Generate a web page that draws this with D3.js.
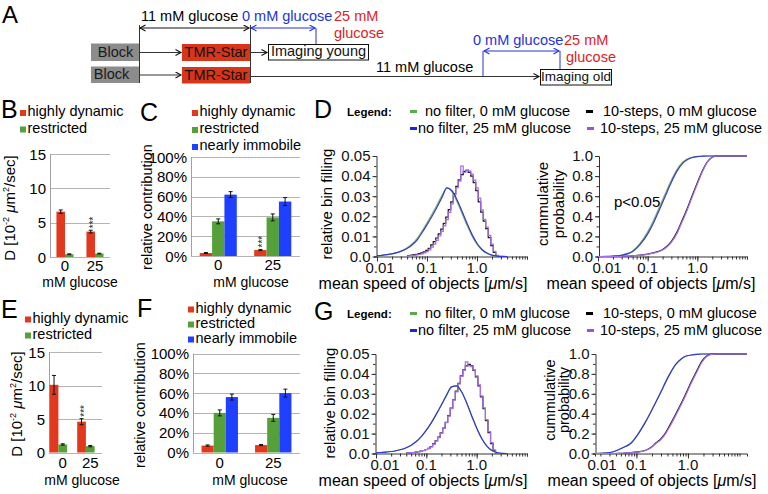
<!DOCTYPE html>
<html>
<head>
<meta charset="utf-8">
<script src="https://cdn.jsdelivr.net/npm/d3@7/dist/d3.min.js"></script>
<style>
  body { margin: 0; background: #fff; }
  svg { display: block; font-family: "Liberation Sans", Arial, Helvetica, sans-serif; }
</style>
</head>
<body>
<svg id="fig" width="768" height="494"></svg>
<script>
// ---------------- data ----------------
var glucose = ["0", "25"];

// B / E : diffusion constants [10^-2 um^2/s]
var youngDynD = [6.6, 3.7], youngDynDErr = [0.25, 0.2];
var youngResD = [0.4, 0.5], youngResDErr = [0.06, 0.05];
var oldDynD = [10.1, 4.6], oldDynDErr = [1.4, 0.45];
var oldResD = [1.2, 0.95], oldResDErr = [0.1, 0.1];

// C / F : relative contribution [%]
var youngDynFrac = [3, 6], youngDynFracErr = [0.5, 0.6];
var youngResFrac = [35, 39], youngResFracErr = [2.5, 3.5];
var youngImmFrac = [62, 55], youngImmFracErr = [3, 4];
var oldDynFrac = [7, 7.5], oldDynFracErr = [0.6, 0.6];
var oldResFrac = [40, 35], oldResFracErr = [3, 3.5];
var oldImmFrac = [56, 60], oldImmFracErr = [3, 4];

var diffTicks = [0, 5, 10, 15];
var fracTicks = [0, 20, 40, 60, 80, 100];

// D / G : speed histograms (log bins)
var noFilterSpeed = [0.01, 0.0126, 0.0158, 0.02, 0.0251, 0.0316, 0.0398, 0.0501, 0.0631, 0.0794,
  0.1, 0.126, 0.158, 0.2, 0.251, 0.316, 0.398, 0.501, 0.631, 0.794,
  1.0, 1.26, 1.58, 2.0, 2.51, 3.16, 3.98];
var noFilter0D = [0.0004, 0.0006, 0.0009, 0.0014, 0.0020, 0.0030, 0.0043, 0.0062, 0.0089, 0.0127,
  0.0168, 0.0211, 0.0256, 0.0304, 0.0342, 0.0320, 0.0272, 0.0214, 0.0155, 0.0102,
  0.0060, 0.0032, 0.0015, 0.0006, 0.0002, 0.00005, 0];
var noFilter25D = [0.0004, 0.0006, 0.0009, 0.0013, 0.0019, 0.0028, 0.0040, 0.0057, 0.0082, 0.0118,
  0.0158, 0.0200, 0.0245, 0.0295, 0.0341, 0.0327, 0.0282, 0.0225, 0.0165, 0.0110,
  0.0066, 0.0035, 0.0017, 0.0007, 0.0002, 0.00005, 0];
var noFilter0G = [0.0003, 0.0005, 0.0007, 0.0010, 0.0014, 0.0020, 0.0029, 0.0042, 0.0060, 0.0085,
  0.0117, 0.0155, 0.0198, 0.0245, 0.0292, 0.0335, 0.0340, 0.0310, 0.0255, 0.0190,
  0.0128, 0.0075, 0.0038, 0.0015, 0.0005, 0.0001, 0];
var noFilter25G = [0.0003, 0.0005, 0.0007, 0.0010, 0.0014, 0.0020, 0.0029, 0.0042, 0.0060, 0.0085,
  0.0117, 0.0155, 0.0198, 0.0245, 0.0292, 0.0335, 0.0340, 0.0310, 0.0255, 0.0190,
  0.0128, 0.0075, 0.0038, 0.0015, 0.0005, 0.0001, 0];

var stepSpeed = [0.0398, 0.0447, 0.0501, 0.0562, 0.0631, 0.0708, 0.0794, 0.0891, 0.100, 0.112,
  0.126, 0.141, 0.158, 0.178, 0.200, 0.224, 0.251, 0.282, 0.316, 0.355,
  0.398, 0.447, 0.501, 0.562, 0.631, 0.708, 0.794, 0.891, 1.00, 1.12,
  1.26, 1.41, 1.58, 1.78, 2.00, 2.24, 2.51, 2.82];
var steps0D = [0.0004, 0.0005, 0.0007, 0.0009, 0.0011, 0.0014, 0.0018, 0.0023, 0.0030, 0.0041,
  0.0058, 0.0074, 0.0092, 0.0113, 0.0136, 0.0165, 0.0196, 0.0233, 0.0272, 0.0313,
  0.0349, 0.0381, 0.0407, 0.0424, 0.0429, 0.0419, 0.0400, 0.0368, 0.0328, 0.0272,
  0.0221, 0.0176, 0.0139, 0.0094, 0.0054, 0.0021, 0.0004, 0];
var steps25D = [0.0002, 0.0003, 0.0004, 0.0006, 0.0008, 0.0010, 0.0013, 0.0018, 0.0024, 0.0033,
  0.0047, 0.0062, 0.0080, 0.0102, 0.0125, 0.0152, 0.0183, 0.0220, 0.0262, 0.0303,
  0.0342, 0.0375, 0.0450, 0.0418, 0.0430, 0.0426, 0.0410, 0.0380, 0.0341, 0.0290,
  0.0232, 0.0185, 0.0146, 0.0105, 0.0062, 0.0026, 0.0006, 0];
var steps0G = [0.0003, 0.0003, 0.0004, 0.0005, 0.0007, 0.0009, 0.0012, 0.0015, 0.0020, 0.0026,
  0.0035, 0.0048, 0.0064, 0.0082, 0.0104, 0.0128, 0.0157, 0.0190, 0.0228, 0.0270,
  0.0313, 0.0352, 0.0390, 0.0420, 0.0440, 0.0448, 0.0440, 0.0418, 0.0385, 0.0340,
  0.0285, 0.0225, 0.0165, 0.0105, 0.0050, 0.0015, 0.0003, 0];
var steps25G = [0.0002, 0.0003, 0.0004, 0.0005, 0.0007, 0.0009, 0.0011, 0.0014, 0.0019, 0.0025,
  0.0034, 0.0046, 0.0062, 0.0080, 0.0102, 0.0126, 0.0155, 0.0188, 0.0226, 0.0268,
  0.0310, 0.0350, 0.0388, 0.0418, 0.0460, 0.0442, 0.0436, 0.0420, 0.0390, 0.0345,
  0.0290, 0.0230, 0.0170, 0.0110, 0.0055, 0.0018, 0.0004, 0];

// cumulative probability
var cdfSpeed = [0.01, 0.02, 0.03, 0.04, 0.05, 0.07, 0.1, 0.13, 0.16, 0.2, 0.25, 0.3, 0.4, 0.5, 0.6, 0.8, 1.0, 1.3, 1.6, 2.0, 2.5, 10];
var cdfNoFilter0D = [0, 0.005, 0.014, 0.031, 0.056, 0.13, 0.245, 0.355, 0.455, 0.565, 0.675, 0.76, 0.875, 0.935, 0.965, 0.988, 0.996, 0.999, 1, 1, 1, 1];
var cdfNoFilter25D = [0, 0.004, 0.012, 0.028, 0.05, 0.118, 0.225, 0.33, 0.43, 0.54, 0.65, 0.74, 0.86, 0.925, 0.958, 0.985, 0.994, 0.998, 1, 1, 1, 1];
var cdfSteps0D = [0, 0, 0.002, 0.004, 0.007, 0.013, 0.024, 0.036, 0.049, 0.07, 0.107, 0.15, 0.255, 0.365, 0.455, 0.615, 0.735, 0.865, 0.945, 0.988, 1, 1];
var cdfSteps25D = [0, 0, 0.002, 0.004, 0.007, 0.012, 0.022, 0.033, 0.045, 0.065, 0.1, 0.14, 0.24, 0.35, 0.44, 0.6, 0.72, 0.855, 0.94, 0.985, 1, 1];
var cdfSpeedG = [0.0157, 0.031, 0.046, 0.061, 0.077, 0.106, 0.151, 0.196, 0.24, 0.30, 0.37, 0.445, 0.59, 0.74, 0.88, 1.17, 1.46, 1.88, 2.31, 2.88, 3.58, 14];
var cdfNoFilter0G = [0, 0.01, 0.04, 0.07, 0.1, 0.19, 0.32, 0.43, 0.52, 0.62, 0.72, 0.8, 0.9, 0.95, 0.975, 0.99, 0.997, 1, 1, 1, 1, 1];
var cdfNoFilter25G = [0, 0.01, 0.04, 0.07, 0.1, 0.19, 0.32, 0.43, 0.52, 0.62, 0.72, 0.8, 0.9, 0.95, 0.975, 0.99, 0.997, 1, 1, 1, 1, 1];
var cdfSteps0G = [0, 0, 0.002, 0.005, 0.009, 0.017, 0.033, 0.065, 0.108, 0.15, 0.21, 0.285, 0.405, 0.505, 0.585, 0.725, 0.825, 0.93, 0.98, 0.998, 1, 1];
var cdfSteps25G = [0, 0, 0.002, 0.005, 0.008, 0.015, 0.03, 0.06, 0.1, 0.14, 0.2, 0.27, 0.39, 0.49, 0.57, 0.71, 0.81, 0.92, 0.975, 0.997, 1, 1];

var speedTicks = [0.01, 0.1, 1];
var speedTickLabels = ["0.01", "0.1", "1.0"];
var binTicks = [0, 0.01, 0.02, 0.03, 0.04, 0.05];
var binTickLabels = ["0.0", "0.01", "0.02", "0.03", "0.04", "0.05"];
var probTicks = [0, 0.2, 0.4, 0.6, 0.8, 1.0];
var probTickLabels = ["0.0", "0.2", "0.4", "0.6", "0.8", "1.0"];

var seriesNames = ["no filter, 0 mM glucose", "10-steps, 0 mM glucose", "no filter, 25 mM glucose", "10-steps, 25 mM glucose"];

// ---------------- styles ----------------
var colDyn = "#e2381e", colRes = "#55a03a", colImm = "#2040ff";
var cGreen = "#7bba66", cBlue = "#3636d4", cBlack = "#1c1c1c", cPurple = "#a66ee8";
var legGreen = "#5caa4a", legBlue = "#2222e0", legBlack = "#000", legPurple = "#9a52e2";
var blueTxt = "#2233dd", redTxt = "#dd1d1d";

var svg = d3.select("#fig");

function txt(g, x, y, s, size, o) {
  o = o || {};
  var t = g.append("text").attr("x", x).attr("y", y).attr("font-size", size).text(s);
  if (o.anchor) t.attr("text-anchor", o.anchor);
  if (o.fill) t.attr("fill", o.fill);
  if (o.weight) t.attr("font-weight", o.weight);
  if (o.rotate) t.attr("transform", "rotate(-90," + x + "," + y + ")");
  return t;
}

// arrow markers
var defs = svg.append("defs");
[["arrK", "#111"], ["arrB", blueTxt]].forEach(function (m) {
  defs.append("marker").attr("id", m[0]).attr("markerUnits", "userSpaceOnUse")
    .attr("markerWidth", 8).attr("markerHeight", 8).attr("refX", 6).attr("refY", 3.5)
    .attr("orient", "auto-start-reverse")
    .append("path").attr("d", "M0.5,0.5 L6,3.5 L0.5,6.5").attr("fill", "none")
    .attr("stroke", m[1]).attr("stroke-width", 1.1);
});

function seg(g, x1, y1, x2, y2, col, o) {
  o = o || {};
  var l = g.append("line").attr("x1", x1).attr("y1", y1).attr("x2", x2).attr("y2", y2)
    .attr("stroke", col).attr("stroke-width", o.w || 1);
  if (o.end) l.attr("marker-end", "url(#" + o.end + ")");
  if (o.start) l.attr("marker-start", "url(#" + o.start + ")");
  return l;
}

// ---------------- panel A (protocol) ----------------
var gA = svg.append("g");
txt(gA, 2, 23, "A", 24);
function box(g, x, y, w, h, fill, stroke, label, tx, size, tcol) {
  g.append("rect").attr("x", x).attr("y", y).attr("width", w).attr("height", h)
    .attr("fill", fill).attr("stroke", stroke || "none");
  txt(g, tx, y + h - 4, label, size || 15, { anchor: "middle", fill: tcol || "#111" });
}
box(gA, 91, 43.5, 48, 17.5, "#8c8c8c", null, "Block", 115.5, 14.5, "#1a1a1a");
box(gA, 91, 66.5, 48, 16.5, "#8c8c8c", null, "Block", 111.5, 14.5, "#1a1a1a");
box(gA, 182, 44, 68, 17, "#d8361a", null, "TMR-Star", 216, 14.5);
box(gA, 182, 67, 68, 16.5, "#d8361a", null, "TMR-Star", 216, 14.5);
box(gA, 268.5, 44.5, 100, 15.5, "#fff", "#111", "Imaging young", 318.5, 14.5);
box(gA, 540.5, 69.5, 71, 15.5, "#fff", "#111", "Imaging old", 576, 13.5);
seg(gA, 139, 52.5, 181, 52.5, "#333", { end: "arrK" });
seg(gA, 139, 75, 181, 75, "#333", { end: "arrK" });
seg(gA, 250, 52.5, 267, 52.5, "#333", { end: "arrK" });
seg(gA, 250, 76.5, 539, 76.5, "#333", { end: "arrK" });
seg(gA, 139.5, 25, 139.5, 83, "#333");
seg(gA, 250.5, 25, 250.5, 83, "#333");
seg(gA, 140, 28, 249, 28, "#111", { start: "arrK", end: "arrK" });
seg(gA, 251, 28, 315, 28, blueTxt, { start: "arrB", end: "arrB" });
seg(gA, 316, 28, 316, 44, blueTxt);
txt(gA, 141, 21, "11 mM glucose", 14.5);
txt(gA, 242, 21, "0 mM glucose", 14.5, { fill: blueTxt });
txt(gA, 334, 21, "25 mM", 14.5, { fill: redTxt });
txt(gA, 334, 38, "glucose", 14.5, { fill: redTxt });
txt(gA, 376, 72, "11 mM glucose", 14.5);
seg(gA, 483, 51, 483, 76.5, blueTxt);
seg(gA, 484, 51, 559, 51, blueTxt, { start: "arrB", end: "arrB" });
seg(gA, 560, 51, 560, 69.5, blueTxt);
txt(gA, 473, 45, "0 mM glucose", 14.5, { fill: blueTxt });
txt(gA, 564, 45, "25 mM", 14.5, { fill: redTxt });
txt(gA, 566, 62, "glucose", 14.5, { fill: redTxt });

// ---------------- bar panels ----------------
function barLegend(g, sqX, baselines, names, cols) {
  names.forEach(function (n, i) {
    g.append("rect").attr("x", sqX).attr("y", baselines[i] - 6).attr("width", 6).attr("height", 6).attr("fill", cols[i]);
    txt(g, sqX + 7.5, baselines[i], n, 14.5);
  });
}

function barPanel(p) {
  var g = svg.append("g");
  var x = d3.scaleBand().domain(glucose).range([p.left, p.barRight || p.right]).paddingInner(p.pad).paddingOuter(p.pad / 2);
  var slot = d3.scaleBand().domain(d3.range(p.slots)).range([0, x.bandwidth()]);
  var y = d3.scaleLinear().domain([0, p.yMax]).range([p.bottom, p.top]);

  g.selectAll(null).data(p.yTicks).enter().append("line")
    .attr("x1", p.left).attr("x2", p.right)
    .attr("y1", function (d) { return Math.round(y(d)) + 0.5; })
    .attr("y2", function (d) { return Math.round(y(d)) + 0.5; })
    .attr("stroke", "#b4b4b4");
  g.append("line").attr("x1", p.left + 0.5).attr("x2", p.left + 0.5)
    .attr("y1", y(p.yMax)).attr("y2", y(0)).attr("stroke", "#a0a0a0");
  g.selectAll(null).data(p.yTicks).enter().append("text")
    .attr("x", p.left - 4).attr("y", function (d) { return y(d) + 5.5; })
    .attr("text-anchor", "end").attr("font-size", 15)
    .text(p.yFormat);

  p.series.forEach(function (s, si) {
    var sel = g.selectAll(null).data(glucose).enter();
    sel.append("rect")
      .attr("x", function (d) { return x(d) + slot(si); })
      .attr("width", slot.bandwidth())
      .attr("y", function (d, i) { return y(s.vals[i]); })
      .attr("height", function (d, i) { return y(0) - y(s.vals[i]); })
      .attr("fill", s.color);
    var cx = function (d) { return x(d) + slot(si) + slot.bandwidth() / 2; };
    sel.append("line").attr("x1", cx).attr("x2", cx)
      .attr("y1", function (d, i) { return y(s.vals[i] - s.errs[i]); })
      .attr("y2", function (d, i) { return y(s.vals[i] + s.errs[i]); })
      .attr("stroke", "#111");
    [-1, 1].forEach(function (sg) {
      sel.append("line")
        .attr("x1", function (d) { return cx(d) - 2; }).attr("x2", function (d) { return cx(d) + 2; })
        .attr("y1", function (d, i) { return y(s.vals[i] + sg * s.errs[i]); })
        .attr("y2", function (d, i) { return y(s.vals[i] + sg * s.errs[i]); })
        .attr("stroke", "#111");
    });
    if (s.star) {
      var i = glucose.indexOf(s.star);
      var sx = x(s.star) + slot(si) + slot.bandwidth() / 2 + 6;
      var sy = y(s.vals[i] + s.errs[i]) - 2;
      txt(g, sx, sy, "***", 10, { rotate: true, fill: "#222" });
    }
  });

  g.selectAll(null).data(glucose).enter().append("text")
    .attr("x", function (d) { return x(d) + x.bandwidth() / 2; })
    .attr("y", p.tickY).attr("text-anchor", "middle").attr("font-size", 15)
    .text(function (d) { return d; });
  txt(g, p.xLabelX, p.titleY, "mM glucose", 14, { anchor: "middle" });
  return g;
}

function diffLabel(g, x, y) {
  var t = g.append("text").attr("transform", "translate(" + x + "," + y + ") rotate(-90)")
    .attr("text-anchor", "middle").attr("font-size", 15);
  t.append("tspan").text("D [10");
  t.append("tspan").attr("font-size", 9).attr("dy", -6).text("-2");
  t.append("tspan").attr("dy", 6).text(" ");
  t.append("tspan").attr("font-style", "italic").text("\u03bc");
  t.append("tspan").text("m");
  t.append("tspan").attr("font-size", 9).attr("dy", -6).text("2");
  t.append("tspan").attr("dy", 6).text("/sec]");
}

var pctFmt = function (d) { return d + "%"; };
var numFmt = function (d) { return d; };

// B
var gB = svg.append("g");
txt(gB, 1, 118, "B", 25);
barLegend(gB, 20, [116, 132.5], ["highly dynamic", "restricted"], [colDyn, colRes]);
barPanel({ left: 50, right: 110, top: 154, bottom: 257, yMax: 15, yTicks: diffTicks, yFormat: numFmt,
  pad: 0.43, slots: 2, xLabelX: 80, tickY: 270.5, titleY: 286.5,
  series: [{ vals: youngDynD, errs: youngDynDErr, color: colDyn, star: "25" },
           { vals: youngResD, errs: youngResDErr, color: colRes }] });
diffLabel(gB, 14.5, 208);

// C
var gC = svg.append("g");
txt(gC, 140, 121, "C", 25);
barLegend(gC, 192, [116, 133, 150], ["highly dynamic", "restricted", "nearly immobile"], [colDyn, colRes, colImm]);
barPanel({ left: 191, right: 300, top: 157, bottom: 256, yMax: 100, yTicks: fracTicks, yFormat: pctFmt,
  pad: 0.32, slots: 3, xLabelX: 251, tickY: 270, titleY: 286.5,
  series: [{ vals: youngDynFrac, errs: youngDynFracErr, color: colDyn, star: "25" },
           { vals: youngResFrac, errs: youngResFracErr, color: colRes },
           { vals: youngImmFrac, errs: youngImmFracErr, color: colImm }] });
txt(gC, 152, 207, "relative contribution", 14.5, { anchor: "middle", rotate: true });

// E
var gE = svg.append("g");
txt(gE, 1, 318, "E", 25);
barLegend(gE, 25, [322.5, 338.5], ["highly dynamic", "restricted"], [colDyn, colRes]);
barPanel({ left: 49, right: 102, barRight: 104, top: 352, bottom: 452.5, yMax: 15, yTicks: diffTicks, yFormat: numFmt,
  pad: 0.05, slots: 3, xLabelX: 82, tickY: 468, titleY: 484.5,
  series: [{ vals: oldDynD, errs: oldDynDErr, color: colDyn, star: "25" },
           { vals: oldResD, errs: oldResDErr, color: colRes }] });
diffLabel(gE, 22, 404);

// F
var gF = svg.append("g");
txt(gF, 137, 317, "F", 25);
barLegend(gF, 188, [312.5, 327.5, 342.5], ["highly dynamic", "restricted", "nearly immobile"], [colDyn, colRes, colImm]);
barPanel({ left: 193, right: 300, top: 353.5, bottom: 452.5, yMax: 100, yTicks: fracTicks, yFormat: pctFmt,
  pad: 0.32, slots: 3, xLabelX: 250, tickY: 468, titleY: 484.5,
  series: [{ vals: oldDynFrac, errs: oldDynFracErr, color: colDyn },
           { vals: oldResFrac, errs: oldResFracErr, color: colRes },
           { vals: oldImmFrac, errs: oldImmFracErr, color: colImm }] });
txt(gF, 145, 405, "relative contribution", 14.5, { anchor: "middle", rotate: true });

// ---------------- speed panels ----------------
function speedLegend(g, letter, row0) {
  txt(g, 314, row0 + 2, letter, 25);
  txt(g, 347, row0, "Legend:", 11.5, { weight: "bold" });
  var items = [
    { name: seriesNames[0], col: legGreen, dx: 410, tx: 425, row: 0 },
    { name: seriesNames[1], col: legBlack, dx: 586, tx: 603, row: 0 },
    { name: seriesNames[2], col: legBlue, dx: 410, tx: 418, row: 1 },
    { name: seriesNames[3], col: legPurple, dx: 587, tx: 600, row: 1 }
  ];
  items.forEach(function (it) {
    var yb = row0 + it.row * 17;
    g.append("rect").attr("x", it.dx).attr("y", yb - 6).attr("width", 7).attr("height", 3).attr("fill", it.col);
    txt(g, it.tx, yb, it.name, 14.5);
  });
}

function styleAxis(a) {
  a.attr("font-family", null).attr("font-size", 15);
  a.selectAll("path, line").attr("stroke", "#333");
  a.selectAll("text").attr("fill", "#111");
}

function speedPanel(p) {
  var g = svg.append("g");
  var dom = p.domain || [0.01, 10];
  var x = d3.scaleLog().domain(dom).range([p.left, p.right]);
  var y = d3.scaleLinear().domain([0, p.yMax]).range([p.bottom, p.top]);

  var ax = g.append("g").attr("transform", "translate(0," + p.bottom + ")")
    .call(d3.axisBottom(x).tickValues(x.ticks()).tickSize(3).tickFormat(""));
  styleAxis(ax);
  var axM = g.append("g").attr("transform", "translate(0," + p.bottom + ")")
    .call(d3.axisBottom(x).tickValues(speedTicks.filter(function (v) { return v >= dom[0]; }))
      .tickSize(5).tickFormat(""));
  styleAxis(axM);
  axM.select(".domain").remove();
  g.selectAll(null).data(speedTicks).enter().append("text")
    .attr("x", function (d, i) { return Math.max(x(d), p.left) + (i === 0 ? p.firstDx : 0); })
    .attr("y", p.bottom + 16).attr("text-anchor", "middle").attr("font-size", 15).attr("fill", "#111")
    .text(function (d, i) { return speedTickLabels[i]; });

  var ay = g.append("g").attr("transform", "translate(" + p.axisX + ",0)")
    .call(d3.axisLeft(y).tickValues(y.ticks(10)).tickSize(2.5).tickFormat(""));
  styleAxis(ay);
  var ayM = g.append("g").attr("transform", "translate(" + p.axisX + ",0)")
    .call(d3.axisLeft(y).tickValues(p.yTicks).tickSize(4).tickPadding(2)
      .tickFormat(function (d, i) { return p.yLabels[i]; }));
  styleAxis(ayM);
  ayM.select(".domain").remove();

  var line = d3.line().curve(p.curve);
  p.curves.forEach(function (c) {
    var pts = c.xs.map(function (s, i) { return [x(s), y(c.ys[i])]; });
    g.append("path").attr("d", line.curve(c.curve || p.curve)(pts))
      .attr("fill", "none").attr("stroke", c.col).attr("stroke-width", 1.2);
  });

  var xl = g.append("text").attr("x", p.xTitleX).attr("y", p.bottom + 32)
    .attr("text-anchor", "middle").attr("font-size", 16);
  xl.append("tspan").text("mean speed of objects [");
  xl.append("tspan").attr("font-style", "italic").text("\u03bc");
  xl.append("tspan").text("m/s]");
  p.yTitle.forEach(function (t, i) {
    txt(g, p.yTitleX[i], p.yTitleY, t, p.yTitleSize || 15, { anchor: "middle", rotate: true });
  });
  return g;
}

// D
var gD = svg.append("g");
speedLegend(gD, "D", 116);
speedPanel({ left: 377, right: 527, axisX: 376.5, top: 156, bottom: 256.5, yMax: 0.05, firstDx: 3,
  yTicks: binTicks, yLabels: binTickLabels, curve: d3.curveMonotoneX,
  yTitle: ["relative bin filling"], yTitleX: [332], yTitleY: 204, xTitleX: 423,
  curves: [
    { xs: stepSpeed, ys: steps0D, col: cBlack, curve: d3.curveStep },
    { xs: stepSpeed, ys: steps25D, col: cPurple, curve: d3.curveStep },
    { xs: noFilterSpeed, ys: noFilter0D, col: cGreen },
    { xs: noFilterSpeed, ys: noFilter25D, col: cBlue }
  ] });
speedPanel({ left: 598, right: 747, axisX: 599, top: 156, bottom: 256.5, yMax: 1, firstDx: 9,
  yTicks: probTicks, yLabels: probTickLabels, curve: d3.curveMonotoneX,
  yTitle: ["cummulative", "probability"], yTitleX: [548, 564], yTitleY: 204, xTitleX: 651,
  curves: [
    { xs: cdfSpeed, ys: cdfNoFilter0D, col: cGreen },
    { xs: cdfSpeed, ys: cdfNoFilter25D, col: cBlue },
    { xs: cdfSpeed, ys: cdfSteps0D, col: cBlack },
    { xs: cdfSpeed, ys: cdfSteps25D, col: cPurple }
  ] });
txt(gD, 614, 207, "p<0.05", 15);

// G
var gG = svg.append("g");
speedLegend(gG, "G", 318);
speedPanel({ left: 376, right: 527, axisX: 375.5, top: 354, bottom: 453.5, yMax: 0.05, firstDx: 9,
  yTicks: binTicks, yLabels: binTickLabels, curve: d3.curveMonotoneX,
  yTitle: ["relative bin filling"], yTitleX: [335], yTitleY: 403, xTitleX: 423,
  curves: [
    { xs: stepSpeed, ys: steps0G, col: cBlack, curve: d3.curveStep },
    { xs: stepSpeed, ys: steps25G, col: cPurple, curve: d3.curveStep },
    { xs: noFilterSpeed, ys: noFilter0G, col: cGreen },
    { xs: noFilterSpeed, ys: noFilter25G, col: cBlue }
  ] });
speedPanel({ left: 595, right: 747, axisX: 595.5, domain: [0.0157, 14], top: 354, bottom: 453.5, yMax: 1, firstDx: 7,
  yTicks: probTicks, yLabels: probTickLabels, curve: d3.curveMonotoneX,
  yTitle: ["cummulative", "probability"], yTitleX: [555, 569], yTitleY: 400, yTitleSize: 14.5, xTitleX: 652,
  curves: [
    { xs: cdfSpeedG, ys: cdfNoFilter0G, col: cGreen },
    { xs: cdfSpeedG, ys: cdfNoFilter25G, col: cBlue },
    { xs: cdfSpeedG, ys: cdfSteps0G, col: cBlack },
    { xs: cdfSpeedG, ys: cdfSteps25G, col: cPurple }
  ] });
</script>
</body>
</html>
